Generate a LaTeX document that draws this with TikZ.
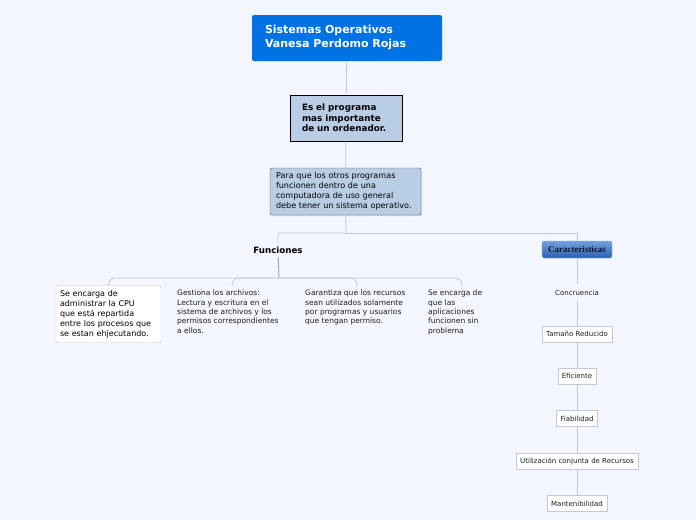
\documentclass[tikz,border=0pt]{standalone}
\usepackage{fontspec}
\setmainfont{DejaVu Sans}
\newfontfamily\serifcarac{Liberation Serif}
\usetikzlibrary{positioning, calc, shadows}
\definecolor{fondoAzul}{RGB}{243,246,254}
\definecolor{tituloAzul}{RGB}{0,114,227}
\definecolor{cajaAzul}{RGB}{185,205,229}
\definecolor{lineaGris}{RGB}{196,200,210}
\definecolor{bordeGris}{RGB}{196,200,210}
\definecolor{textoGris}{RGB}{30,30,30}

\begin{document}
\begin{tikzpicture}[
    x=1pt, y=-1pt,
    node distance=26pt,
    titulo/.style={rectangle, rounded corners=2pt, fill=tituloAzul, text=white, text width=164pt, inner xsep=13pt, minimum height=46pt, align=left, font=\bfseries\fontsize{11}{14}\selectfont},
    definicion/.style={rectangle, draw=black, line width=1pt, fill=cajaAzul, text width=88pt, inner xsep=12pt, minimum height=46pt, align=left, font=\bfseries\fontsize{8.8}{10.5}\selectfont, drop shadow={shadow xshift=1pt, shadow yshift=-1pt, opacity=0.3}},
    proposito/.style={rectangle, rounded corners=2pt, draw={rgb,255:red,80;green,85;blue,95}, fill=cajaAzul, text width=139pt, inner xsep=6pt, minimum height=47pt, align=left, font=\fontsize{8.1}{10}\selectfont, drop shadow={shadow xshift=1pt, shadow yshift=-1pt, opacity=0.25}},
    rama/.style={font=\bfseries\fontsize{8.7}{10}\selectfont},
    hoja/.style={inner sep=0pt, align=left, text=textoGris, font=\fontsize{7.5}{9.3}\selectfont},
    hojacaja/.style={rectangle, rounded corners=2pt, draw=bordeGris, fill=white, text width=97pt, inner xsep=4pt, minimum height=57pt, align=left, font=\fontsize{8}{10.1}\selectfont},
    carac/.style={rectangle, rounded corners=2pt, draw={rgb,255:red,130;green,170;blue,225}, top color={rgb,255:red,115;green,160;blue,222}, bottom color={rgb,255:red,45;green,95;blue,175}, minimum width=70pt, minimum height=17pt, inner sep=0pt, text={rgb,255:red,15;green,20;blue,45}, font=\serifcarac\bfseries\fontsize{9}{10}\selectfont},
    item/.style={rectangle, draw=bordeGris, fill=white, minimum height=16pt, inner xsep=4pt, inner ysep=0pt, text=textoGris, font=\fontsize{7}{8}\selectfont},
    itemlibre/.style={minimum height=16pt, inner sep=0pt, text=textoGris, font=\fontsize{7}{8}\selectfont},
    conector/.style={draw=lineaGris, line width=0.8pt}
]
\fill[fondoAzul] (0,0) rectangle (696,520);
\useasboundingbox (0,0) rectangle (696,520);

% tronco principal
\node[titulo] (titulo) at (347,38) {Sistemas Operativos\\Vanesa Perdomo Rojas};
\node[definicion] (definicion) at (346,118) {Es el programa\\mas importante\\de un ordenador.};
\node[proposito] (proposito) at (345.5,191.5) {Para que los otros programas\\funcionen dentro de una\\computadora de uso general\\debe tener un sistema operativo.};

\draw[conector] (titulo) -- (definicion);
\draw[conector] (definicion) -- (proposito);

\node[rama] (funciones) at (278,250) {Funciones};
\node[carac] (caracteristicas) at (577,249.5) {Caracteristicas};

\coordinate (reparto) at (346,233);
\draw[conector] (proposito) -- (reparto) -| (funciones);
\draw[conector] (reparto) -| (caracteristicas);

% funciones
\node[hojacaja] (cpu) at (108.5,314) {Se encarga de\\administrar la CPU\\que está repartida\\entre los procesos que\\se estan ehjecutando.};
\node[hoja, anchor=north west] (archivos) at (177,290) {Gestiona los archivos:\\Lectura y escritura en el\\sistema de archivos y los\\permisos correspondientes\\a ellos.};
\node[hoja, anchor=north west] (recursos) at (305,290) {Garantiza que los recursos\\sean utilizados solamente\\por programas y usuarios\\que tengan permiso.};
\node[hoja, anchor=north west] (aplicaciones) at (428,290) {Se encarga de\\que las\\aplicaciones\\funcionen sin\\problema};

\coordinate (llave) at (279,278);
\coordinate (fin1) at (108.5,285.5);
\coordinate (fin2) at (232,286);
\coordinate (fin3) at (357,286);
\coordinate (fin4) at (462,286);
\draw[conector, draw={rgb,255:red,150;green,155;blue,165}] (funciones) -- (llave);
\foreach \f in {1,...,4}
    \draw[conector, rounded corners=7pt] (llave) -| (fin\f);

% caracteristicas
\node[itemlibre, below=of caracteristicas] (concruencia) {Concruencia};
\node[item, below=25pt of concruencia] (tamano) {Tamaño Reducido};
\node[item, below=of tamano] (eficiente) {Eficiente};
\node[item, below=of eficiente] (fiabilidad) {Fiabilidad};
\node[item, below=of fiabilidad] (utilizacion) {Utilización conjunta de Recursos};
\node[item, below=of utilizacion] (mantenibilidad) {Mantenibilidad};

\draw[conector] (caracteristicas) -- (concruencia);
\draw[conector] (concruencia) -- (tamano);
\draw[conector] (tamano) -- (eficiente);
\draw[conector] (eficiente) -- (fiabilidad);
\draw[conector] (fiabilidad) -- (utilizacion);
\draw[conector] (utilizacion) -- (mantenibilidad);

\end{tikzpicture}
\end{document}
